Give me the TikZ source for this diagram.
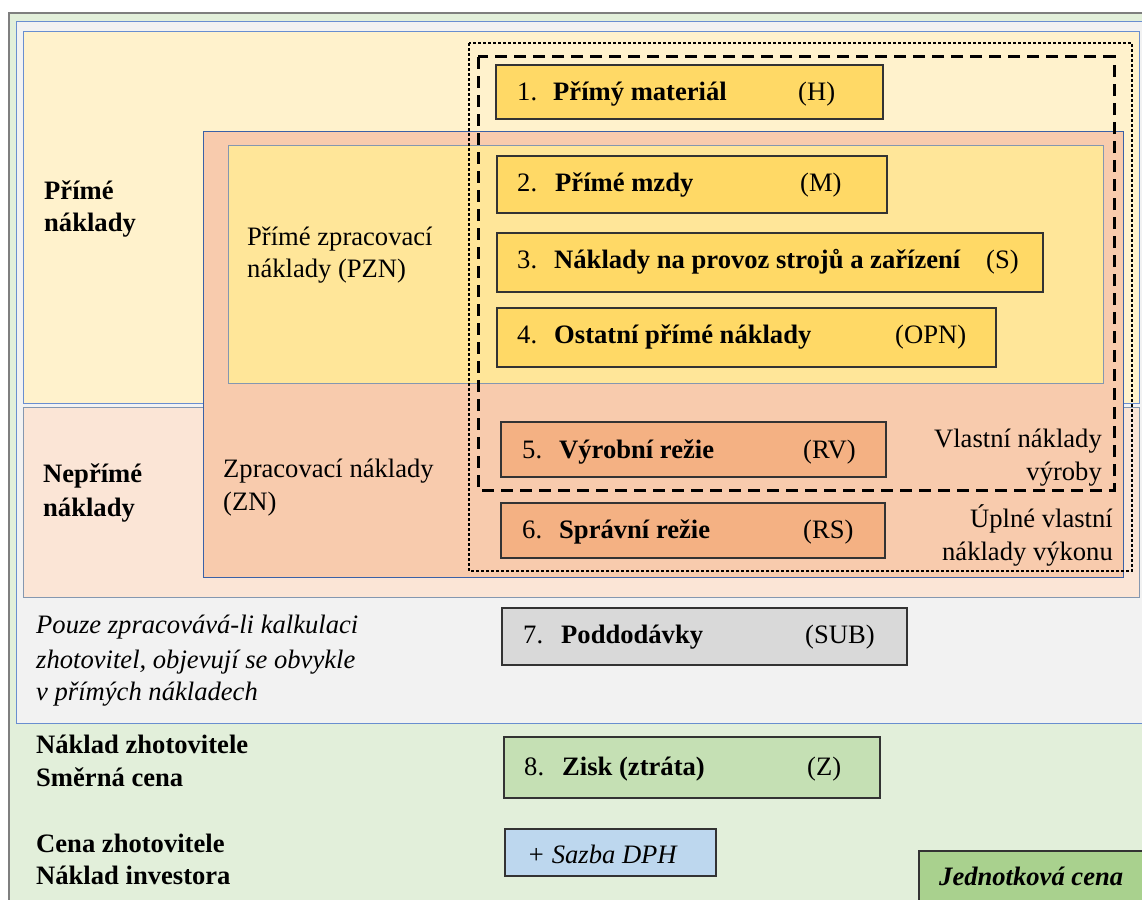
\documentclass[tikz,border=0pt]{standalone}
\usepackage{fontspec}
\setmainfont{Liberation Serif}
\definecolor{outergreen}{HTML}{E2EFDA}
\definecolor{outerline}{HTML}{7F7F7F}
\definecolor{greyzone}{HTML}{F2F2F2}
\definecolor{cream}{HTML}{FFF2CC}
\definecolor{peach}{HTML}{FBE5D6}
\definecolor{salmon}{HTML}{F8CBAD}
\definecolor{lightgold}{HTML}{FFE699}
\definecolor{gold}{HTML}{FFD966}
\definecolor{orangebox}{HTML}{F4B183}
\definecolor{greybox}{HTML}{D9D9D9}
\definecolor{greenbox}{HTML}{C5E0B4}
\definecolor{bluebox}{HTML}{BDD7EE}
\definecolor{darkgreenbox}{HTML}{A9D18E}
\definecolor{blueline}{HTML}{4472C4}
\definecolor{slateline}{HTML}{8497B0}
\definecolor{boxline}{HTML}{333333}
\newcommand{\labelsize}{\fontsize{26.6}{32}\selectfont}
\begin{document}
\begin{tikzpicture}[x=1pt,y=-1pt,
  region/.style={line width=1pt},
  itembox/.style={draw=boxline, line width=1.2pt},
  lbl/.style={anchor=base west, inner sep=0pt, font=\labelsize},
  lblb/.style={lbl, font=\labelsize\bfseries},
  lbli/.style={lbl, font=\labelsize\itshape},
  lblr/.style={anchor=base east, inner sep=0pt, font=\labelsize},
  dottedframe/.style={line width=2.8pt, dash pattern=on 2.6pt off 2.4pt},
  dashedframe/.style={line width=3pt, dash pattern=on 12pt off 7pt}
]
\useasboundingbox (0,0) rectangle (1142,899);
\clip (0,0) rectangle (1142,899);
\fill[white] (0,0) rectangle (1142,899);

% nested cost zones
\draw[region, fill=outergreen, draw=outerline, line width=1.3pt] (9,13) rectangle (1160,920);
\draw[region, fill=greyzone, draw=blueline!80] (16,22) rectangle (1160,723);
\draw[region, fill=cream, draw=blueline!80] (23,32) rectangle (1139,403);
\draw[region, fill=peach, draw=slateline] (23,407) rectangle (1139,597);
\draw[region, fill=salmon, draw=blueline!85!black] (203,131) rectangle (1123,577);
\draw[region, fill=lightgold, draw=slateline] (228,145) rectangle (1103,383);

% cost items
\draw[itembox, fill=gold] (496,65) rectangle (883,119);
\draw[itembox, fill=gold] (497,156) rectangle (887,213);
\draw[itembox, fill=gold] (497,233) rectangle (1043,292);
\draw[itembox, fill=gold] (497,308) rectangle (996,367);
\draw[itembox, fill=orangebox] (501,422) rectangle (886,477);
\draw[itembox, fill=orangebox] (501,503) rectangle (885,558);
\draw[itembox, fill=greybox] (502,608) rectangle (907,665);
\draw[itembox, fill=greenbox] (504,737) rectangle (880,798);
\draw[itembox, fill=bluebox] (505,829) rectangle (716,876);
\draw[itembox, fill=darkgreenbox] (919,851) rectangle (1160,920);

% cost boundaries
\draw[dottedframe] (469,43) rectangle (1132,571);
\draw[dashedframe] (478,57) rectangle (1114,490);

% zone labels
\node[lblb] (pn1) at (44,199) {Přímé};
\node[lblb] (pn2) at (44,231) {náklady};
\node[lbl] (pzn1) at (247,245) {Přímé zpracovací};
\node[lbl] (pzn2) at (247,277) {náklady (PZN)};
\node[lblb] (nn1) at (43,482) {Nepřímé};
\node[lblb] (nn2) at (43,516) {náklady};
\node[lbl] (zn1) at (223,477) {Zpracovací náklady};
\node[lbl] (zn2) at (223,510) {(ZN)};
\node[lblr] (vn1) at (1102,447) {Vlastní náklady};
\node[lblr] (vn2) at (1102,480) {výroby};
\node[lblr] (uvn1) at (1113,527) {Úplné vlastní};
\node[lblr] (uvn2) at (1113,560) {náklady výkonu};
\node[lbli] (note1) at (36,633) {Pouze zpracovává-li kalkulaci};
\node[lbli] (note2) at (36,668) {zhotovitel, objevují se obvykle};
\node[lbli] (note3) at (36,700) {v přímých nákladech};
\node[lblb] (nz) at (36,753) {Náklad zhotovitele};
\node[lblb] (sc) at (36,786) {Směrná cena};
\node[lblb] (cz) at (36,852) {Cena zhotovitele};
\node[lblb] (ni) at (36,884) {Náklad investora};

% item labels
\node[lbl] (n1) at (517,100) {1.};
\node[lblb] (t1) at (553,100) {Přímý materiál};
\node[lbl] (c1) at (798,100) {(H)};
\node[lbl] (n2) at (517,191) {2.};
\node[lblb] (t2) at (555,191) {Přímé mzdy};
\node[lbl] (c2) at (800,191) {(M)};
\node[lbl] (n3) at (517,268) {3.};
\node[lblb] (t3) at (554,268) {Náklady na provoz strojů a zařízení};
\node[lbl] (c3) at (986,268) {(S)};
\node[lbl] (n4) at (517,343) {4.};
\node[lblb] (t4) at (554,343) {Ostatní přímé náklady};
\node[lbl] (c4) at (895,343) {(OPN)};
\node[lbl] (n5) at (522,458) {5.};
\node[lblb] (t5) at (559,458) {Výrobní režie};
\node[lbl] (c5) at (803,458) {(RV)};
\node[lbl] (n6) at (522,538) {6.};
\node[lblb] (t6) at (559,538) {Správní režie};
\node[lbl] (c6) at (803,538) {(RS)};
\node[lbl] (n7) at (523,643) {7.};
\node[lblb] (t7) at (561,643) {Poddodávky};
\node[lbl] (c7) at (805,643) {(SUB)};
\node[lbl] (n8) at (524,775) {8.};
\node[lblb] (t8) at (562,775) {Zisk (ztráta)};
\node[lbl] (c8) at (807,775) {(Z)};
\node[lbli] (dph) at (527,863) {+ Sazba DPH};
\node[lbl, font=\labelsize\bfseries\itshape] (jc) at (939,885) {Jednotková cena};
\end{tikzpicture}
\end{document}
